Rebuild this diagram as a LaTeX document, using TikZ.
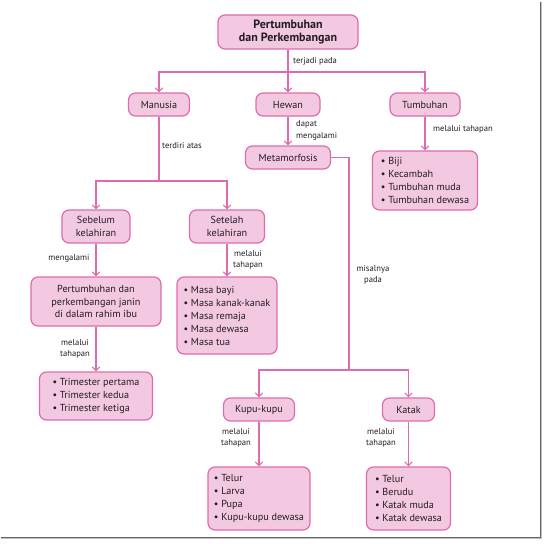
\documentclass[tikz,border=0pt]{standalone}
\usepackage{fontspec}
\setmainfont{PT Sans}
\usetikzlibrary{arrows.meta}
\definecolor{pinkfill}{RGB}{243,201,225}
\definecolor{pinkline}{RGB}{222,108,172}
\definecolor{txt}{RGB}{35,28,35}
\tikzset{
  box/.style={draw=pinkline, fill=pinkfill, line width=1.2pt, rounded corners=7pt,
    inner sep=0pt, text=txt, font=\fontsize{10.2}{12.5}\selectfont, align=center},
  listbox/.style={box, align=left, font=\fontsize{10.2}{13}\selectfont},
  conn/.style={draw=pinkline, line width=1.1pt},
  arr/.style={conn, -{Straight Barb[length=3.8pt,width=7.5pt,line width=1.1pt]}},
  lab/.style={text=txt, font=\fontsize{8.6}{11.5}\selectfont, inner sep=0pt, align=center},
}
\begin{document}
\begin{tikzpicture}[x=1pt,y=-1pt]
\useasboundingbox (0,0) rectangle (545,543);
% frame shadow
\draw[black!25, line width=2.4pt] (1,538.2) -- (541.2,538.2) -- (541.2,2);
\draw[black!60, line width=1pt] (1,537.6) -- (540.6,537.6) -- (540.6,2);

\node[box, minimum width=140pt, minimum height=34pt, font=\bfseries\fontsize{12}{13.5}\selectfont] (title) at (288,32) {Pertumbuhan\\dan Perkembangan};
\node[box, minimum width=61pt, minimum height=23pt] (manusia) at (159,104.5) {Manusia};
\node[box, minimum width=64pt, minimum height=23pt] (hewan) at (288,104.5) {Hewan};
\node[box, minimum width=70pt, minimum height=23pt] (tumbuhan) at (425,104.5) {Tumbuhan};

\node[box, minimum width=105pt, minimum height=59pt, listbox] (tlist) at (425,180.5) {\textbullet\ Biji\\\textbullet\ Kecambah\\\textbullet\ Tumbuhan muda\\\textbullet\ Tumbuhan dewasa};

\node[box, minimum width=85pt, minimum height=23pt] (meta) at (288,157.5) {Metamorfosis};

\node[box, minimum width=68pt, minimum height=33pt] (sebelum) at (96,226.5) {Sebelum\\kelahiran};
\node[box, minimum width=75pt, minimum height=33pt] (setelah) at (227,226.5) {Setelah\\kelahiran};

\node[box, minimum width=130pt, minimum height=49pt] (janin) at (96,301.5) {Pertumbuhan dan\\perkembangan janin\\di dalam rahim ibu};
\node[listbox, minimum width=113pt, minimum height=48pt] (trim) at (96,396) {\textbullet\ Trimester pertama\\\textbullet\ Trimester kedua\\\textbullet\ Trimester ketiga};

\node[listbox, minimum width=100pt, minimum height=77pt] (masa) at (227,315.5) {\textbullet\ Masa bayi\\\textbullet\ Masa kanak-kanak\\\textbullet\ Masa remaja\\\textbullet\ Masa dewasa\\\textbullet\ Masa tua};

\node[box, minimum width=71pt, minimum height=23pt] (kupu) at (259,409.5) {Kupu-kupu};
\node[box, minimum width=52pt, minimum height=23pt] (katak) at (408.5,409.5) {Katak};

\node[listbox, minimum width=102pt, minimum height=63pt] (klist) at (259,498.5) {\textbullet\ Telur\\\textbullet\ Larva\\\textbullet\ Pupa\\\textbullet\ Kupu-kupu dewasa};
\node[listbox, minimum width=84pt, minimum height=63pt] (kalist) at (408.5,498.5) {\textbullet\ Telur\\\textbullet\ Berudu\\\textbullet\ Katak muda\\\textbullet\ Katak dewasa};

% connectors
\coordinate (b1) at (288,72);
\draw[arr] (title.south) -- (hewan.north);
\draw[arr] (b1) -| (manusia.north);
\draw[arr] (b1) -| (tumbuhan.north);

\coordinate (b2) at (159,181);
\draw[conn] (manusia.south) -- (b2);
\draw[arr] (b2) -| (sebelum.north);
\draw[arr] (b2) -| (setelah.north);

\draw[arr] (sebelum.south) -- (janin.north);
\draw[arr] (janin.south) -- (trim.north);
\draw[arr] (setelah.south) -- (masa.north);
\draw[arr] (hewan.south) -- (meta.north);
\draw[arr] (tumbuhan.south) -- (tlist.north);

\coordinate (m1) at (349,157.5);
\coordinate (b3) at (349,370);
\draw[conn] (meta.east) -- (m1) -- (b3);
\draw[arr] (b3) -| (kupu.north);
\draw[arr] (b3) -| (katak.north);
\draw[arr] (kupu.south) -- (klist.north);
\draw[arr] (katak.south) -- (kalist.north);

% labels
\node[lab, anchor=west] (l1) at (293,61) {terjadi pada};
\node[lab, anchor=west] (l2) at (162,146) {terdiri atas};
\node[lab, anchor=west, align=left] (l3) at (296,130.5) {dapat\\mengalami};
\node[lab, anchor=west] (l4) at (433,129) {melalui tahapan};
\node[lab] (l5) at (69,258) {mengalami};
\node[lab] (l6) at (75,349) {melalui\\tahapan};
\node[lab] (l7) at (248,260) {melalui\\tahapan};
\node[lab] (l8) at (373,275) {misalnya\\pada};
\node[lab] (l9) at (236,438) {melalui\\tahapan};
\node[lab] (l10) at (381,438) {melalui\\tahapan};
\end{tikzpicture}
\end{document}
